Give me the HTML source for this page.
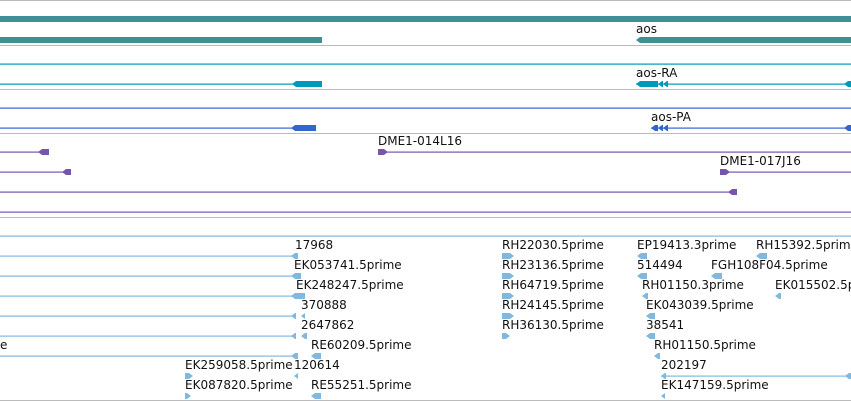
<!DOCTYPE html>
<html><head><meta charset="utf-8"><style>
html,body{margin:0;padding:0;background:#fff;}
svg{display:block;}
text{font-family:"DejaVu Sans","Liberation Sans",sans-serif;font-size:12px;fill:#111;}
</style></head><body>
<svg id="v" width="851" height="401" viewBox="0 0 851 401"></svg>
<script>
const separatorYs = [0.5, 45.5, 89.5, 133.5, 217.5, 400.5];
// features: [rowY, x1, x2, color, kind, arrowDir, label, labelX, name]
const TEAL = '#3f9094', CYAN = '#0099bb', BLUE = '#3366cc', PURP = '#7755aa', LB = '#80b8e0';
const features = [
  [19, 0, 851, TEAL, 'bar', 0, '', 0, 'gene-bar-top'],
  [40, 0, 322, TEAL, 'bar', 0, '', 0, 'gene-bar-left'],
  [40, 636, 851, TEAL, 'bar', -1, 'aos', 636, 'gene-aos'],
  [64, 0, 851, CYAN, 'line', 0, '', 0, 'transcript-line-1'],
  [84, 0, 322, CYAN, 'lineblock', -1, '', 0, 'transcript-left', 292],
  [84, 636, 851, CYAN, 'exons', -1, 'aos-RA', 636, 'transcript-aos-ra', 668],
  [108, 0, 851, BLUE, 'line', 0, '', 0, 'protein-line-1'],
  [128, 0, 316, BLUE, 'lineblock', -1, '', 0, 'protein-left', 291],
  [128, 651, 851, BLUE, 'exons', -1, 'aos-PA', 651, 'protein-aos-pa', 668],
  [152, 0, 49, PURP, 'lineblock', -1, '', 0, 'clone-left-1', 38],
  [152, 378, 851, PURP, 'startblock', 1, 'DME1-014L16', 378, 'clone-dme1-014l16', 388],
  [172, 0, 71, PURP, 'lineblock', -1, '', 0, 'clone-left-2', 62],
  [172, 720, 851, PURP, 'startblock', 1, 'DME1-017J16', 720, 'clone-dme1-017j16', 730],
  [192, 0, 737, PURP, 'lineblock', -1, '', 0, 'clone-left-3', 728],
  [212, 0, 851, PURP, 'line', 0, '', 0, 'clone-line-4'],
  [236, 0, 851, LB, 'line', 0, '', 0, 'est-line-1'],
  [256, 0, 298, LB, 'lineblock', -1, '17968', 295, 'est-17968', 291],
  [256, 502, 514, LB, 'glyph', 1, 'RH22030.5prime', 502, 'est-rh22030'],
  [256, 637, 647, LB, 'glyph', -1, 'EP19413.3prime', 637, 'est-ep19413'],
  [256, 756, 767, LB, 'glyph', -1, 'RH15392.5prime', 756, 'est-rh15392'],
  [276, 0, 301, LB, 'lineblock', -1, 'EK053741.5prime', 294, 'est-ek053741', 291],
  [276, 502, 514, LB, 'glyph', 1, 'RH23136.5prime', 502, 'est-rh23136'],
  [276, 637, 647, LB, 'glyph', -1, '514494', 637, 'est-514494'],
  [276, 711, 722, LB, 'glyph', -1, 'FGH108F04.5prime', 711, 'est-fgh108f04'],
  [296, 0, 305, LB, 'lineblock', -1, 'EK248247.5prime', 296, 'est-ek248247', 291],
  [296, 502, 514, LB, 'glyph', 1, 'RH64719.5prime', 502, 'est-rh64719'],
  [296, 642, 648, LB, 'glyph', -1, 'RH01150.3prime', 642, 'est-rh01150-3'],
  [296, 775, 781, LB, 'glyph', -1, 'EK015502.5prime', 775, 'est-ek015502'],
  [316, 0, 296, LB, 'lineblock', -1, '', 0, 'est-line-316', 291],
  [316, 301, 305, LB, 'glyph', -1, '370888', 301, 'est-370888'],
  [316, 502, 514, LB, 'glyph', 1, 'RH24145.5prime', 502, 'est-rh24145'],
  [316, 646, 655, LB, 'glyph', -1, 'EK043039.5prime', 646, 'est-ek043039'],
  [336, 0, 296, LB, 'lineblock', -1, '', 0, 'est-line-336', 291],
  [336, 301, 307, LB, 'glyph', -1, '2647862', 301, 'est-2647862'],
  [336, 502, 510, LB, 'glyph', 1, 'RH36130.5prime', 502, 'est-rh36130'],
  [336, 646, 655, LB, 'glyph', -1, '38541', 646, 'est-38541'],
  [356, 0, 298, LB, 'lineblock', -1, 'e', 0, 'est-line-356', 291],
  [356, 311, 321, LB, 'glyph', -1, 'RE60209.5prime', 311, 'est-re60209'],
  [356, 654, 660, LB, 'glyph', -1, 'RH01150.5prime', 654, 'est-rh01150-5'],
  [376, 185, 193, LB, 'glyph', 1, 'EK259058.5prime', 185, 'est-ek259058'],
  [376, 294, 298, LB, 'glyph', -1, '120614', 294, 'est-120614'],
  [376, 661, 851, LB, 'twoend', -1, '202197', 661, 'est-202197'],
  [396, 185, 191, LB, 'glyph', 1, 'EK087820.5prime', 185, 'est-ek087820'],
  [396, 311, 321, LB, 'glyph', -1, 'RE55251.5prime', 311, 'est-re55251'],
  [396, 661, 665, LB, 'glyph', -1, 'EK147159.5prime', 661, 'est-ek147159']
];
const NS = 'http://www.w3.org/2000/svg';
const svg = document.getElementById('v');
function mk(tag, attrs, parent) {
  const e = document.createElementNS(NS, tag);
  for (const k in attrs) e.setAttribute(k, attrs[k]);
  parent.appendChild(e);
  return e;
}
function arrowBlock(g, a, b, y, dir, color) {
  let pts;
  if (dir < 0) pts = [[a, y], [a + 4, y - 3], [b, y - 3], [b, y + 3], [a + 4, y + 3]];
  else pts = [[b, y], [b - 4, y - 3], [a, y - 3], [a, y + 3], [b - 4, y + 3]];
  mk('polygon', {points: pts.map(p => p.join(',')).join(' '), fill: color}, g);
}
separatorYs.forEach(y => {
  const l = mk('line', {x1: 0, x2: 851, y1: y, y2: y, stroke: '#bbbbbb', 'stroke-width': 1}, svg);
  
  
});
features.forEach(f => {
  const [y, x1, x2, c, kind, dir, label, lx, name, bx] = f;
  const g = mk('g', {}, svg);
  
  
  if (kind === 'bar') {
    if (dir < 0) arrowBlock(g, x1, x2, y, -1, c);
    else mk('rect', {x: x1, y: y - 3, width: x2 - x1, height: 6, fill: c}, g);
  } else if (kind === 'line') {
    mk('rect', {x: x1, y: y - 0.5, width: x2 - x1, height: 1.2, fill: c}, g);
  } else if (kind === 'lineblock') {
    mk('rect', {x: x1, y: y - 0.5, width: x2 - x1, height: 1.2, fill: c}, g);
    arrowBlock(g, bx, x2, y, dir, c);
  } else if (kind === 'startblock') {
    mk('rect', {x: x1, y: y - 0.5, width: x2 - x1, height: 1.2, fill: c}, g);
    arrowBlock(g, x1, bx, y, 1, c);
  } else if (kind === 'exons') {
    mk('rect', {x: x1, y: y - 0.5, width: x2 - x1, height: 1.2, fill: c}, g);
    arrowBlock(g, x1, bx - 10, y, -1, c);
    arrowBlock(g, bx - 10, bx - 5, y, -1, c);
    arrowBlock(g, bx - 5, bx, y, -1, c);
    arrowBlock(g, x2 - 7, x2, y, -1, c);
  } else if (kind === 'twoend') {
    mk('rect', {x: x1, y: y - 0.5, width: x2 - x1, height: 1.2, fill: c}, g);
    arrowBlock(g, x1, x1 + 5, y, -1, c);
    arrowBlock(g, x2 - 6, x2, y, -1, c);
  } else {
    arrowBlock(g, x1, x2, y, dir, c);
  }
  if (label) {
    const t = mk('text', {x: lx, y: y - 7}, g);
    t.textContent = label;
    
    
  }
});
</script>
</body></html>
